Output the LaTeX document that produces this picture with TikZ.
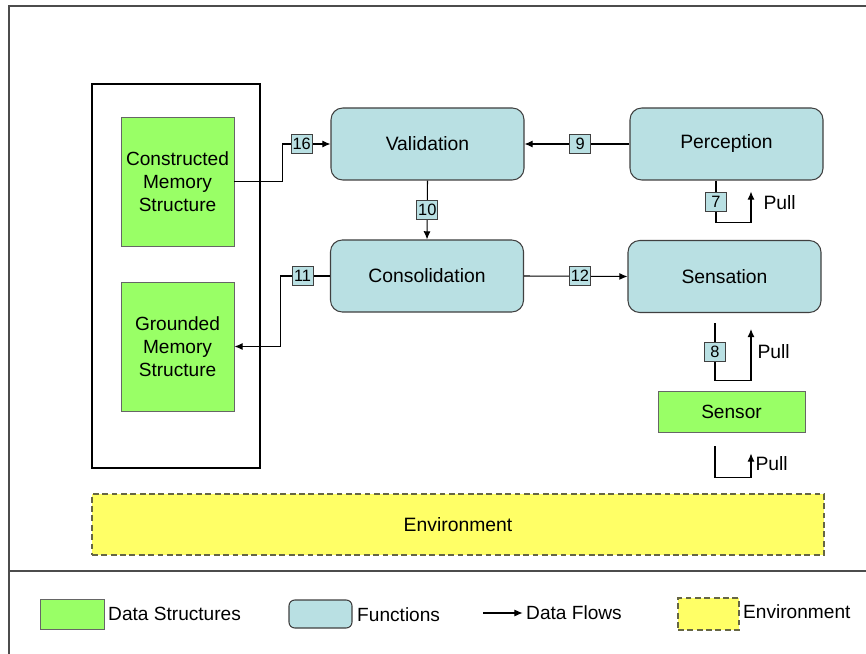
\documentclass[tikz,border=0pt]{standalone}
\usepackage{fontspec}
\setmainfont{Liberation Sans}
\usepackage{tikz}
\usetikzlibrary{arrows.meta}

\definecolor{datagreen}{RGB}{153,255,102}
\definecolor{funcblue}{RGB}{185,224,227}
\definecolor{envyellow}{RGB}{255,255,102}
\definecolor{envborder}{RGB}{102,102,68}

\begin{document}
\begin{tikzpicture}[
    x=0.03cm,
    y=-0.03cm,
    >={Latex[length=7pt,width=6pt]},
    frameline/.style={
        draw=black!70,
        line width=0.9pt
    },
    store/.style={
        rectangle,
        draw=black,
        line width=2pt,
        minimum width=5.04cm,
        minimum height=11.52cm
    },
    datastruct/.style={
        rectangle,
        draw=black!60,
        line width=0.8pt,
        fill=datagreen,
        align=center,
        font=\fontsize{16.3}{19.5}\selectfont,
        inner sep=0pt
    },
    func/.style={
        rectangle,
        draw=black!75,
        line width=0.9pt,
        fill=funcblue,
        rounded corners=10pt,
        minimum width=5.79cm,
        minimum height=2.16cm,
        font=\fontsize{16.5}{19.5}\selectfont
    },
    env/.style={
        rectangle,
        draw=envborder,
        dashed,
        dash pattern=on 5pt off 3pt,
        line width=1pt,
        fill=envyellow,
        font=\fontsize{16.5}{19.5}\selectfont
    },
    tag/.style={
        rectangle,
        draw=black!75,
        line width=0.7pt,
        fill=funcblue,
        minimum width=0.63cm,
        minimum height=0.57cm,
        inner sep=0pt,
        font=\fontsize{14}{14}\selectfont
    },
    flow/.style={
        ->,
        line width=0.9pt
    },
    pulltext/.style={
        anchor=west,
        inner sep=0pt,
        font=\fontsize{16.5}{19.5}\selectfont
    },
    legendtext/.style={
        anchor=west,
        inner sep=0pt,
        font=\fontsize{16.3}{19.5}\selectfont
    }
]

\useasboundingbox (0,0) rectangle (866,654);

% Frame
\draw[frameline] (866,6) -- (9,6) -- (9,654);
\draw[frameline] (9,571) -- (866,571);

% Memory store
\node[store] (memory) at (176,276) {};
\node[datastruct, minimum width=3.39cm, minimum height=3.87cm] (constructed) at (177.5,181.5)
    {Constructed\\Memory\\Structure};
\node[datastruct, minimum width=3.39cm, minimum height=3.87cm] (grounded) at (177.5,346.5)
    {Grounded\\Memory\\Structure};

% Functions
\node[func] (validation) at (427.5,144) {Validation};
\node[func] (perception) at (726.5,144) {Perception};
\node[func] (consolidation) at (427,276) {Consolidation};
\node[func] (sensation) at (724.5,276.5) {Sensation};

% Sensor
\node[datastruct, minimum width=4.41cm, minimum height=1.23cm] (sensor) at (731.5,411.5) {Sensor};

% Environment
\node[env, minimum width=21.96cm, minimum height=1.83cm] (environment) at (458,524.5) {Environment};

% Data flows
\draw[flow] (constructed.east) -- ++(48,0) |- node[tag, pos=0.7] {16} (validation.west);
\draw[flow] (perception.west) -- node[tag, pos=0.47] {9} (validation.east);
\draw[flow] (validation.south) -- node[tag] {10} (consolidation.north);
\draw[flow] (consolidation.west) -- node[tag, pos=0.56] {11} ++(-49,0) |- (grounded.east);
\draw[flow] (consolidation.east) -- node[tag, pos=0.54] {12} (sensation.west);

% Pull loops
\draw[flow] ([xshift=-0.315cm]perception.south) -- node[tag] {7} ++(0,42) -| ++(35,-31)
    node[pulltext, pos=0.82, xshift=0.36cm] {Pull};
\draw[flow] ([xshift=-0.285cm, yshift=-0.3cm]sensation.south) -- node[tag] {8} ++(0,57) -| ++(36,-51)
    node[pulltext, pos=0.78, xshift=0.18cm] {Pull};
\draw[flow] ([xshift=-0.495cm, yshift=-0.42cm]sensor.south) -- ++(0,31) -| ++(36,-24)
    node[pulltext, pos=0.79, xshift=0.12cm] {Pull};

% Legend
\node[datastruct, minimum width=1.92cm, minimum height=0.9cm] (legdata) at (72,614) {};
\node[legendtext] (legdatatext) at (108,614) {Data Structures};
\node[func, minimum width=1.89cm, minimum height=0.84cm, rounded corners=5pt] (legfunc) at (320.5,614) {};
\node[legendtext] (legfunctext) at (357,615) {Functions};
\coordinate (legflowstart) at (483,613);
\node[legendtext] (legflowtext) at (526,613) {Data Flows};
\draw[flow, shorten >=0.1cm] (legflowstart) -- (legflowtext.west);
\node[env, minimum width=1.83cm, minimum height=0.96cm] (legenv) at (708.5,614) {};
\node[legendtext] (legenvtext) at (743,612) {Environment};

\end{tikzpicture}
\end{document}
